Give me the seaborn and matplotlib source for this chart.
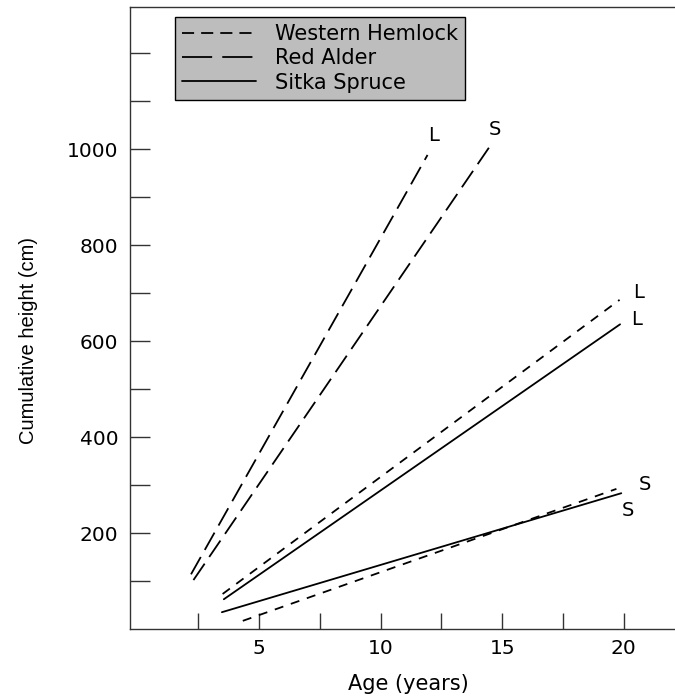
import matplotlib
matplotlib.use("Agg")
import matplotlib.pyplot as plt
from matplotlib.lines import Line2D
from matplotlib import font_manager as fm
import numpy as np
import pandas as pd
import seaborn as sns

# ---- data ----
species = ["Western Hemlock", "Western Hemlock", "Red Alder", "Red Alder",
           "Sitka Spruce", "Sitka Spruce"]
site = ["L", "S", "L", "S", "L", "S"]
age_start = [3.5, 4.33, 2.2, 2.3, 3.55, 3.47]
age_end = [19.83, 19.7, 11.93, 14.48, 19.85, 19.9]
height_start = [73, 17, 114, 102, 62, 35]
height_end = [686, 292, 988, 1005, 635, 283]
label_x = [20.6, 20.88, 12.16, 14.69, 20.54, 20.18]
label_y = [702, 302, 1028, 1042, 645, 248]

legend_order = ["Western Hemlock", "Red Alder", "Sitka Spruce"]
x_ticks = [2.5, 5, 7.5, 10, 12.5, 15, 17.5, 20]
x_ticklabels = ["", "5", "", "10", "", "15", "", "20"]
y_ticks = [100, 200, 300, 400, 500, 600, 700, 800, 900, 1000, 1100, 1200]
y_ticklabels = ["", "200", "", "400", "", "600", "", "800", "", "1000", "", ""]

rows = []
for i in range(len(species)):
    uid = f"{species[i]}-{site[i]}"
    rows.append(dict(age=age_start[i], height=height_start[i], species=species[i], line=uid))
    rows.append(dict(age=age_end[i], height=height_end[i], species=species[i], line=uid))
df = pd.DataFrame(rows)

sns.set_style("white")
plt.rcParams["font.family"] = ["DejaVu Sans"]
plt.rcParams["text.color"] = "black"
plt.rcParams["axes.labelcolor"] = "black"
plt.rcParams["xtick.color"] = "black"
plt.rcParams["ytick.color"] = "black"

fig = plt.figure(figsize=(6.75, 6.97), dpi=100)
ax = fig.add_axes([130 / 675, 68 / 697, 545 / 675, 622.3 / 697])

lw = 1.3
dash_map = {"Western Hemlock": (5, 4.4), "Red Alder": (11, 4.5), "Sitka Spruce": ""}
sns.lineplot(data=df, x="age", y="height", style="species", units="line",
             estimator=None, sort=False, color="black", dashes=dash_map,
             legend=False, lw=lw, ax=ax)

for i in range(len(site)):
    ax.text(label_x[i], label_y[i], site[i], ha="center", va="center",
            fontsize=14, color="black")

ax.set_xlim(-0.31, 22.11)
ax.set_ylim(0, 1297)
ax.set_xticks(x_ticks)
ax.set_xticklabels(x_ticklabels, fontsize=14.5)
ax.set_yticks(y_ticks)
ax.set_yticklabels(y_ticklabels, fontsize=14.5)
ax.tick_params(axis="x", bottom=True, direction="in", length=11.5, width=1,
               color="#333333", labelcolor="black", pad=7)
ax.tick_params(axis="y", left=True, direction="in", length=14.4, width=1,
               color="#333333", labelcolor="black", pad=8.5)

for s in ["left", "bottom", "top"]:
    ax.spines[s].set_color("#333333")
    ax.spines[s].set_linewidth(1)
ax.spines["right"].set_visible(False)

names = {f.name for f in fm.fontManager.ttflist}
if "Liberation Sans Narrow" in names:
    yfam, ysize = "Liberation Sans Narrow", 17
else:
    yfam, ysize = "Liberation Sans", 14.5
ax.set_ylabel("Cumulative height (cm)", fontsize=ysize, family=yfam, va="center",
              color="black")
ax.yaxis.set_label_coords(-0.187, 0.464)
ax.set_xlabel("Age (years)", fontsize=15, va="center", color="black")
ax.xaxis.set_label_coords(0.51, -0.0884)

handles = [
    Line2D([], [], color="black", lw=lw, dashes=(6.7, 3.9)),
    Line2D([], [], color="black", lw=lw, dashes=(16.7, 5.6)),
    Line2D([], [], color="black", lw=lw),
]
leg = ax.legend(handles, legend_order, loc="upper left",
                bbox_to_anchor=(0.0826, 0.9835), borderaxespad=0,
                frameon=True, fancybox=False, edgecolor="black",
                facecolor="#bdbdbd", framealpha=1, fontsize=15,
                handlelength=3.55, handletextpad=0.9, borderpad=0.35,
                labelspacing=0.2)
leg.get_frame().set_linewidth(1)
for t in leg.get_texts():
    t.set_color("black")

fig.savefig("out.png", dpi=100, facecolor="white")
